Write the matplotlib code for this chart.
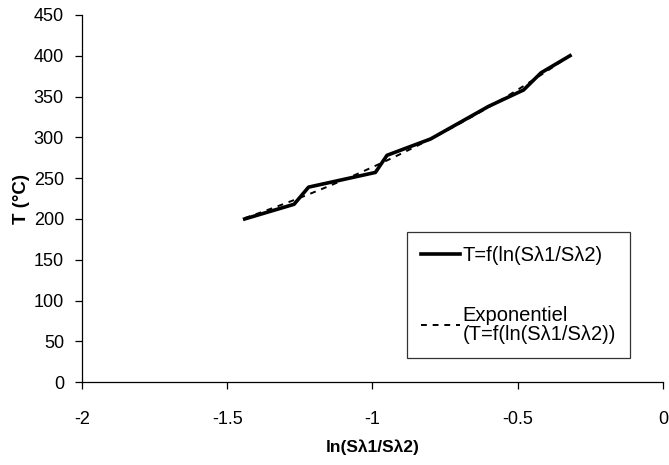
import matplotlib
matplotlib.use('Agg')
import matplotlib.pyplot as plt
import numpy as np

plt.rcParams['font.family'] = ['Liberation Sans', 'DejaVu Sans']

# measured points T = f(ln(S_lambda1 / S_lambda2))
ln_ratio = [-1.44, -1.27, -1.22, -0.99, -0.95, -0.80, -0.70, -0.60, -0.48, -0.42, -0.32]
temp = [200, 218, 239, 257, 278, 298, 318, 338, 358, 379, 400]

label_data = 'T=f(ln(Sλ1/Sλ2)'
label_fit = 'Exponentiel\n(T=f(ln(Sλ1/Sλ2))'

# exponential trendline fitted on the data
x = np.array(ln_ratio)
b, ln_a = np.polyfit(x, np.log(temp), 1)
xf = np.linspace(x.min(), x.max(), 100)
yf = np.exp(ln_a) * np.exp(b * xf)

fig = plt.figure(figsize=(6.69, 4.65), dpi=100)
ax = fig.add_axes([0.1226, 0.178, 0.8684, 0.79])

ax.plot(x, temp, color='black', linewidth=2.6, label=label_data, zorder=3)
ax.plot(xf, yf, color='black', linewidth=1.4, linestyle=(0, (3, 3)), label=label_fit, zorder=2)

ax.set_xlim(-2, 0)
ax.set_ylim(0, 450)
ax.set_xticks([-2, -1.5, -1, -0.5, 0])
ax.set_xticklabels(['-2', '-1.5', '-1', '-0.5', '0'])
ax.set_yticks(range(0, 451, 50))

for s in ['top', 'right']:
    ax.spines[s].set_visible(False)
for s in ['left', 'bottom']:
    ax.spines[s].set_linewidth(0.9)
ax.tick_params(direction='out', length=5, width=0.9, labelsize=13)
ax.tick_params(axis='x', pad=16)
ax.tick_params(axis='y', pad=8)

ax.set_xlabel('ln(Sλ1/Sλ2)', fontsize=12.5, fontweight='bold', labelpad=8)
ax.set_ylabel('T (°C)', fontsize=13.5, fontweight='bold', labelpad=3)

leg = ax.legend(loc='lower left', bbox_to_anchor=(0.56, 0.065), fontsize=14.5,
                frameon=True, fancybox=False, edgecolor='black', handlelength=1.9,
                handletextpad=0.15, labelspacing=2.0, borderpad=0.7, borderaxespad=0)
leg.get_frame().set_linewidth(0.9)
for t in leg.get_texts():
    t.set_linespacing(1.05)

fig.savefig('out.png', dpi=100)
